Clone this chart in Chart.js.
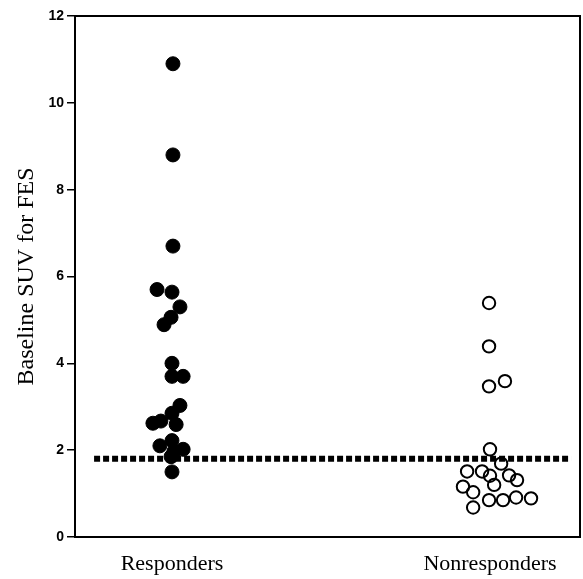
<!DOCTYPE html>
<html>
<head>
<meta charset="utf-8">
<script src="https://cdn.jsdelivr.net/npm/chart.js@4/dist/chart.umd.min.js"></script>
<style>
  html, body { margin: 0; padding: 0; background: #fff; }
  #c { display: block; }
</style>
</head>
<body>
<canvas id="c" width="583" height="579"></canvas>
<script>
// Group labels (x positions 1 and 2)
const categories = ["Responders", "Nonresponders"];
// Y tick values
const yTicks = [0, 2, 4, 6, 8, 10, 12];

// Responders: baseline SUV values and horizontal jitter (x position)
const respondersY = [10.9, 8.8, 6.7, 5.7, 5.64, 5.3, 5.06, 4.89, 4.0, 3.7, 3.7, 3.03, 2.85, 2.67, 2.62, 2.59, 2.22, 2.1, 2.02, 1.97, 1.85, 1.5];
const respondersX = [1.003, 1.003, 1.003, 0.953, 1.0, 1.025, 0.997, 0.975, 1.0, 1.0, 1.035, 1.025, 1.0, 0.965, 0.940, 1.013, 1.0, 0.962, 1.035, 1.006, 0.997, 1.0];

// Nonresponders: baseline SUV values and horizontal jitter (x position)
const nonrespondersY = [5.39, 4.39, 3.47, 3.59, 2.02, 1.69, 1.51, 1.51, 1.41, 1.42, 1.31, 1.20, 1.16, 1.03, 0.85, 0.85, 0.91, 0.89, 0.68];
const nonrespondersX = [1.997, 1.997, 1.997, 2.047, 2.0, 2.035, 1.928, 1.975, 2.0, 2.060, 2.085, 2.013, 1.915, 1.947, 1.997, 2.041, 2.082, 2.129, 1.947];

// Threshold line
const thresholdY = 1.8;
const thresholdX = [0.755, 2.255];

const toPts = (xs, ys) => ys.map((y, i) => ({ x: xs[i], y: y }));

const boxPlugin = {
  id: 'box',
  afterDatasetsDraw(chart) {
    const a = chart.chartArea;
    const ctx = chart.ctx;
    ctx.save();
    ctx.strokeStyle = '#000';
    ctx.lineWidth = 2;
    ctx.beginPath();
    ctx.moveTo(a.left, a.top);
    ctx.lineTo(a.right, a.top);
    ctx.lineTo(a.right, a.bottom);
    ctx.stroke();
    ctx.restore();
  }
};

new Chart(document.getElementById('c'), {
  type: 'scatter',
  data: {
    datasets: [
      {
        label: 'Responders',
        data: toPts(respondersX, respondersY),
        pointRadius: 7,
        pointBackgroundColor: '#000',
        pointBorderColor: '#000',
        pointBorderWidth: 1,
        showLine: false,
        order: 1,
        clip: false
      },
      {
        label: 'Nonresponders',
        data: toPts(nonrespondersX, nonrespondersY),
        pointRadius: 6.2,
        pointBackgroundColor: 'rgba(255,255,255,0)',
        pointBorderColor: '#000',
        pointBorderWidth: 2,
        showLine: false,
        order: 1,
        clip: false
      },
      {
        label: 'Threshold',
        data: thresholdX.map(x => ({ x: x, y: thresholdY })),
        showLine: true,
        borderColor: '#000',
        borderWidth: 6,
        borderDash: [6, 3],
        borderCapStyle: 'butt',
        pointRadius: 0,
        order: 3,
        clip: false
      }
    ]
  },
  options: {
    responsive: false,
    animation: false,
    layout: { autoPadding: false, padding: { top: 16, right: 3, left: 0, bottom: 0 } },
    plugins: {
      legend: { display: false },
      tooltip: { enabled: false }
    },
    scales: {
      x: {
        type: 'linear',
        min: 0.695,
        max: 2.283,
        afterBuildTicks(scale) {
          scale.ticks = categories.map((c, i) => ({ value: i + 1 }));
        },
        afterFit(scale) { scale.height = 42; },
        grid: { display: false, drawTicks: false },
        border: { display: true, color: '#000', width: 2 },
        ticks: {
          autoSkip: false,
          maxRotation: 0,
          padding: 14,
          color: '#000',
          font: { family: '"Liberation Serif", "DejaVu Serif", serif', size: 22 },
          callback: (v) => categories[Math.round(v) - 1] || ''
        }
      },
      y: {
        min: 0,
        max: 12,
        afterBuildTicks(scale) {
          scale.ticks = yTicks.map(v => ({ value: v }));
        },
        afterFit(scale) { scale.width = 75; },
        grid: {
          drawOnChartArea: false,
          drawTicks: true,
          tickLength: 8,
          color: '#000',
          lineWidth: 1.5
        },
        border: { display: true, color: '#000', width: 2 },
        ticks: {
          padding: 3,
          color: '#000',
          font: { family: '"Liberation Sans", Arial, sans-serif', size: 14, weight: 'bold' }
        },
        title: {
          display: true,
          text: 'Baseline SUV for FES',
          color: '#000',
          padding: { top: 12, bottom: 0 },
          font: { family: '"Liberation Serif", "DejaVu Serif", serif', size: 24, lineHeight: 1.2 }
        }
      }
    }
  },
  plugins: [boxPlugin]
});
</script>
</body>
</html>
